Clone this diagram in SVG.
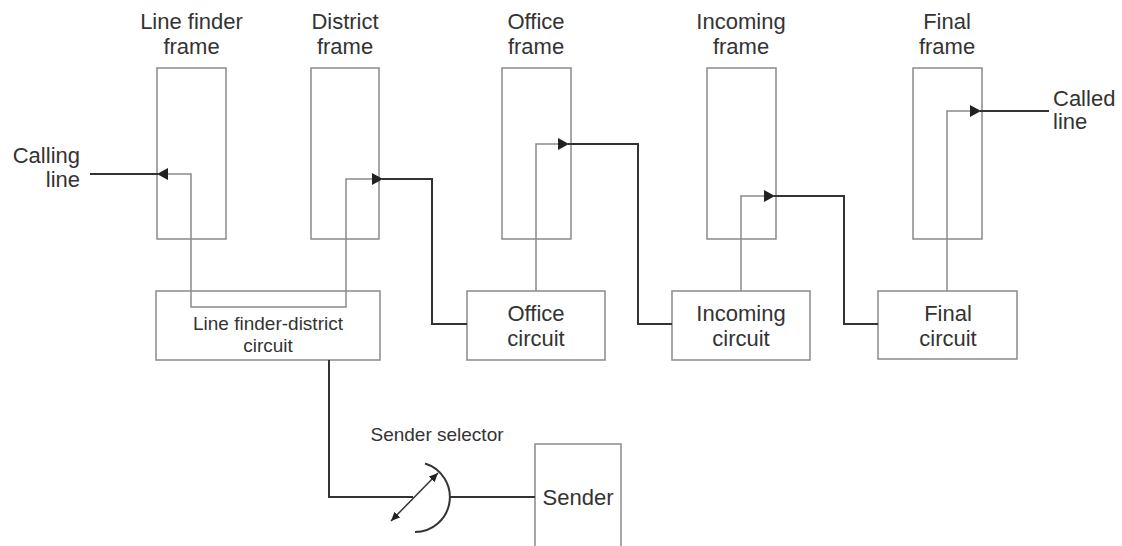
<svg xmlns="http://www.w3.org/2000/svg" width="1122" height="546" viewBox="0 0 1122 546">
<style>
.box{fill:#fff;stroke:#8a8a8a;stroke-width:1.5}
.thin{fill:none;stroke:#8a8a8a;stroke-width:1.5}
.thick{fill:none;stroke:#333;stroke-width:2}
text{font-family:"Liberation Sans",Arial,sans-serif;fill:#333;font-size:22px;text-anchor:middle}
.sm{font-size:19px}
</style>
<defs>
<marker id="arr" markerUnits="userSpaceOnUse" markerWidth="12" markerHeight="13" refX="0" refY="6" orient="auto-start-reverse">
<path d="M0,0 L11,6 L0,12 z" fill="#222"/>
</marker>
<marker id="sarr" markerUnits="userSpaceOnUse" markerWidth="10" markerHeight="9" refX="9" refY="4" orient="auto-start-reverse">
<path d="M0,0 L9,4 L0,8 z" fill="#222"/>
</marker>
</defs>
<g id="lf-frame"><rect class="box" x="157" y="68" width="69" height="171"/><text x="191.5" y="29">Line finder</text><text x="191.5" y="54">frame</text></g>
<g id="district-frame"><rect class="box" x="311" y="68" width="68" height="171"/><text x="345" y="29">District</text><text x="345" y="54">frame</text></g>
<g id="office-frame"><rect class="box" x="502" y="68" width="69" height="171"/><text x="536" y="29">Office</text><text x="536" y="54">frame</text></g>
<g id="incoming-frame"><rect class="box" x="707" y="68" width="69" height="171"/><text x="741" y="29">Incoming</text><text x="741" y="54">frame</text></g>
<g id="final-frame"><rect class="box" x="913" y="68" width="69" height="171"/><text x="947" y="29">Final</text><text x="947" y="54">frame</text></g>
<g id="lfd-circuit"><rect class="box" x="156" y="291" width="224" height="69"/><text class="sm" x="268" y="330">Line finder-district</text><text class="sm" x="268" y="352">circuit</text></g>
<g id="office-circuit"><rect class="box" x="467" y="291" width="138" height="69"/><text x="536" y="321">Office</text><text x="536" y="346">circuit</text></g>
<g id="incoming-circuit"><rect class="box" x="672" y="291" width="138" height="69"/><text x="741" y="321">Incoming</text><text x="741" y="346">circuit</text></g>
<g id="final-circuit"><rect class="box" x="878" y="291" width="139" height="68"/><text x="948" y="321">Final</text><text x="948" y="346">circuit</text></g>
<g id="sender"><path class="box" d="M535,546 V444 H621 V546"/><text x="578" y="505">Sender</text></g>
<g id="calling-line"><text x="80" y="163" style="text-anchor:end">Calling</text><text x="80" y="187" style="text-anchor:end">line</text></g>
<g id="called-line"><text x="1053" y="106" style="text-anchor:start">Called</text><text x="1053" y="129" style="text-anchor:start">line</text></g>
<g id="sender-selector">
<text class="sm" x="437" y="441">Sender selector</text>
<path class="thick" d="M425,463.5 A35,35 0 0 1 415,532"/>
<line x1="391" y1="521" x2="438" y2="473" stroke="#333" stroke-width="1.5" marker-start="url(#sarr)" marker-end="url(#sarr)"/>
</g>
<g id="connectors">
<path class="thick" d="M90,174 H158"/>
<path class="thin" d="M168,174 H191 V307 H346 V179 H372" marker-start="url(#arr)" marker-end="url(#arr)"/>
<path class="thick" d="M382,179 H432 V324 H467"/>
<path class="thin" d="M536,291 V144 H558" marker-end="url(#arr)"/>
<path class="thick" d="M568,144 H638 V324 H672"/>
<path class="thin" d="M741,291 V196 H764" marker-end="url(#arr)"/>
<path class="thick" d="M774,196 H844 V324 H878"/>
<path class="thin" d="M947,291 V111 H970" marker-end="url(#arr)"/>
<path class="thick" d="M980,111 H1049"/>
<path class="thick" d="M329,360 V497 H413"/>
<path class="thick" d="M450,497 H535"/>
</g>
</svg>
